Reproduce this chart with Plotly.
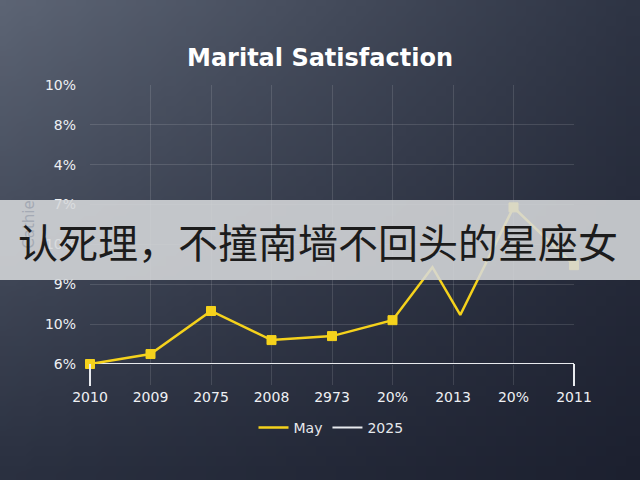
import base64, struct, zlib
import plotly.graph_objects as go

# ---- data ----
categories = ["2010", "2009", "2075", "2008", "2973", "20%", "2013", "20%", "2011"]
y_tick_labels = ["6%", "10%", "9%", "10%", "7%", "4%", "8%", "10%"]
may_x = [0, 1, 2, 3, 4, 5, 5.66, 6.12, 7, 8]
may_y = [0.0, 0.25, 1.33, 0.6, 0.7, 1.1, 2.43, 1.23, 3.93, 2.48]
may_marker = [1, 1, 1, 1, 1, 1, 0, 0, 1, 1]
y2025 = [0, 0, 0, 0, 0, 0, 0, 0, 0]
title_text = "Marital Satisfaction"
y_title = "Cathie"
banner_text = "认死理，不撞南墙不回头的星座女"

# ---- background gradient png ----
def make_png(w, h, tl, tr, bl, br):
    rows = []
    for j in range(h):
        v = j / (h - 1)
        row = bytearray([0])
        for i in range(w):
            u = i / (w - 1)
            px = []
            for k in range(3):
                top = tl[k] * (1 - u) + tr[k] * u
                bot = bl[k] * (1 - u) + br[k] * u
                px.append(int(round(top * (1 - v) + bot * v)))
            row.extend(px)
        rows.append(bytes(row))
    raw = b"".join(rows)
    def chunk(t, d):
        c = struct.pack(">I", len(d)) + t + d
        return c + struct.pack(">I", zlib.crc32(t + d) & 0xffffffff)
    png = b"\x89PNG\r\n\x1a\n" + chunk(b"IHDR", struct.pack(">IIBBBBB", w, h, 8, 2, 0, 0, 0))
    png += chunk(b"IDAT", zlib.compress(raw, 9)) + chunk(b"IEND", b"")
    return "data:image/png;base64," + base64.b64encode(png).decode()

bg = make_png(64, 48, (92, 100, 116), (46, 52, 68), (42, 48, 64), (28, 32, 47))

W, H = 640, 480
L, R, T, B = 90, 66, 85, 116
pw, ph = W - L - R, H - T - B
YELLOW = "#f5d21c"
WHITE = "#e8eaee"
FONT = "DejaVu Sans"

def px_x(x):
    return (x - L) / pw

def px_y(y):
    return (H - B - y) / ph

fig = go.Figure()

fig.add_trace(go.Scatter(
    x=list(range(len(categories))), y=y2025, mode="lines", name="2025",
    line=dict(color=WHITE, width=2), cliponaxis=False, showlegend=False,
    hoverinfo="skip",
))
fig.add_trace(go.Scatter(
    x=may_x, y=may_y, mode="lines+markers", name="May",
    line=dict(color=YELLOW, width=2.5),
    marker=dict(symbol="square", size=[9 * m for m in may_marker], color=YELLOW,
                opacity=1, line=dict(width=1, color=YELLOW)),
    cliponaxis=False, showlegend=False, hoverinfo="skip",
))
# legend entries (line only)
fig.add_trace(go.Scatter(x=[None], y=[None], mode="lines", name="May",
                         line=dict(color=YELLOW, width=2.5)))
fig.add_trace(go.Scatter(x=[None], y=[None], mode="lines", name="2025",
                         line=dict(color=WHITE, width=2)))

# end drops of 2025 series
n = len(categories)
for xi in (0, n - 1):
    fig.add_shape(type="line", xref="paper", yref="paper", x0=xi / (n - 1), x1=xi / (n - 1),
                  y0=0, y1=px_y(386), line=dict(color=WHITE, width=2), layer="above")

# banner
fig.add_shape(type="rect", xref="paper", yref="paper",
              x0=px_x(0), x1=px_x(640), y0=px_y(280), y1=px_y(200),
              fillcolor="rgba(214,216,219,0.88)", line=dict(width=0), layer="above")
fig.add_annotation(text=banner_text, xref="paper", yref="paper",
                   x=px_x(318), y=px_y(241), showarrow=False,
                   font=dict(family="Noto Sans CJK SC", size=40, color="#1c1c1c"))

fig.update_layout(
    width=W, height=H,
    margin=dict(l=L, r=R, t=T, b=B),
    paper_bgcolor="#353b4a",
    plot_bgcolor="rgba(0,0,0,0)",
    hovermode=False,
    images=[dict(source=bg, xref="paper", yref="paper",
                 x=px_x(0), y=px_y(0), sizex=W / pw, sizey=H / ph,
                 xanchor="left", yanchor="top", sizing="stretch", layer="below")],
    title=dict(text="<b>" + title_text + "</b>", x=0.5, xanchor="center",
               y=1 - 58 / H, yanchor="middle",
               font=dict(family=FONT, size=24, color="#ffffff")),
    font=dict(family=FONT, color="#e6e8ec"),
    showlegend=True,
    legend=dict(orientation="h", x=px_x(331), y=px_y(428), xanchor="center",
                yanchor="middle", bgcolor="rgba(0,0,0,0)",
                font=dict(size=14, color="#e6e8ec"), itemwidth=30),
    xaxis=dict(range=[0, n - 1], tickvals=list(range(n)),
               ticktext=categories, showgrid=True, gridcolor="rgba(255,255,255,0.12)",
               ticks="outside", ticklen=20, tickcolor="rgba(255,255,255,0.12)",
               zeroline=False, showline=False,
               tickfont=dict(size=14, color="#eef0f3")),
    yaxis=dict(range=[0, len(y_tick_labels) - 1], tickvals=list(range(len(y_tick_labels))),
               ticktext=y_tick_labels, showgrid=True, gridcolor="rgba(255,255,255,0.12)",
               zeroline=False, showline=False, ticks="", ticklabelstandoff=13,
               tickfont=dict(size=14, color="#eef0f3"),
               title=dict(text=y_title, standoff=6,
                          font=dict(size=15, color="#a4aab4"))),
)

fig.write_html("out.html", config={"displayModeBar": False},
               post_script="document.body.style.margin='0';")
